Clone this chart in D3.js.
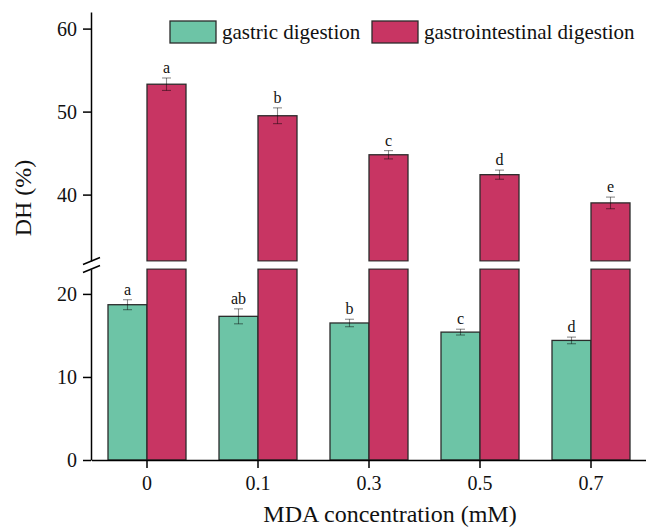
<!DOCTYPE html>
<html>
<head>
<meta charset="utf-8">
<script src="https://cdn.jsdelivr.net/npm/d3@7"></script>
<style>
  body { margin: 0; background: #fff; }
  svg text { font-family: "Liberation Serif", "Times New Roman", serif; fill: #111; }
</style>
</head>
<body>
<svg class="chart" width="646" height="529"></svg>
<script>
// MDA concentrations (mM)
const categories = ['0', '0.1', '0.3', '0.5', '0.7'];
const series = ['gastric digestion', 'gastrointestinal digestion'];
const gastric = [18.7, 17.3, 16.5, 15.4, 14.4];
const gastricErr = [0.6, 0.9, 0.45, 0.35, 0.4];
const gastricLetters = ['a', 'ab', 'b', 'c', 'd'];
const intestinal = [53.3, 49.5, 44.8, 42.4, 39.0];
const intestinalErr = [0.75, 0.95, 0.5, 0.55, 0.7];
const intestinalLetters = ['a', 'b', 'c', 'd', 'e'];
const lowTicks = [0, 10, 20];
const highTicks = [40, 50, 60];

const colors = ['#6dc4a6', '#c83563'];
const svg = d3.select('.chart');

// x: one band per concentration, two bars inside
var x = d3.scaleBand().domain(categories).range([91.5, 646.5]);
var x1 = d3.scaleBand().domain(series).range([0, x.bandwidth()]).paddingOuter(0.423);

// broken y axis: lower part and upper part
var yLo = d3.scaleLinear().domain([0, 23]).range([460, 269]);
var yHi = d3.scaleLinear().domain([32, 62]).range([261, 12]);

// bars
var groups = svg.selectAll('g.grp')
    .data(categories)
    .enter()
        .append('g')
            .attr('class', 'grp')
            .attr('transform', d => 'translate(' + x(d) + ',0)');

groups.append('rect')
    .attr('x', x1(series[0]))
    .attr('width', x1.bandwidth())
    .attr('y', (d, i) => yLo(gastric[i]))
    .attr('height', (d, i) => yLo(0) - yLo(gastric[i]))
    .attr('fill', colors[0])
    .attr('stroke', '#2b2b2b')
    .attr('stroke-width', 1.3);

// gastrointestinal: lower piece up to the break, upper piece from the break
groups.append('rect')
    .attr('x', x1(series[1]))
    .attr('width', x1.bandwidth())
    .attr('y', yLo(23))
    .attr('height', yLo(0) - yLo(23))
    .attr('fill', colors[1])
    .attr('stroke', '#2b2b2b')
    .attr('stroke-width', 1.3);

groups.append('rect')
    .attr('x', x1(series[1]))
    .attr('width', x1.bandwidth())
    .attr('y', (d, i) => yHi(intestinal[i]))
    .attr('height', (d, i) => yHi(32) - yHi(intestinal[i]))
    .attr('fill', colors[1])
    .attr('stroke', '#2b2b2b')
    .attr('stroke-width', 1.3);

// white gap covering the stroke at the break
svg.append('rect')
    .attr('x', 93).attr('width', 553)
    .attr('y', yHi(32) + 0.7).attr('height', yLo(23) - yHi(32) - 1.4)
    .attr('fill', '#fff');

// error bars + letters
function errBars(vals, errs, letters, scale, s) {
    var g = groups.append('g')
        .attr('stroke', 'rgba(0,0,0,0.45)')
        .attr('stroke-width', 1.1);
    var cx = x1(s) + x1.bandwidth() / 2;
    g.append('line')
        .attr('x1', cx).attr('x2', cx)
        .attr('y1', (d, i) => scale(vals[i] + errs[i]))
        .attr('y2', (d, i) => scale(vals[i] - errs[i]));
    [1, -1].forEach(function(sign) {
        g.append('line')
            .attr('x1', cx - 4.5).attr('x2', cx + 4.5)
            .attr('y1', (d, i) => scale(vals[i] + sign * errs[i]))
            .attr('y2', (d, i) => scale(vals[i] + sign * errs[i]));
    });
    groups.append('text')
        .attr('x', cx)
        .attr('y', (d, i) => scale(vals[i] + errs[i]) - 5)
        .attr('text-anchor', 'middle')
        .attr('font-size', 16)
        .text((d, i) => letters[i]);
}
errBars(gastric, gastricErr, gastricLetters, yLo, series[0]);
errBars(intestinal, intestinalErr, intestinalLetters, yHi, series[1]);

// axes
function styleAxis(g) {
    g.selectAll('path, line').attr('stroke', '#000').attr('stroke-width', 1.5);
    g.selectAll('text').attr('font-size', 20).attr('fill', '#111')
        .style('font-family', '"Liberation Serif", serif');
}

svg.append('g')
    .attr('transform', 'translate(0,460)')
    .call(d3.axisBottom(x).tickSize(8).tickSizeOuter(0).tickPadding(8))
    .call(styleAxis);

svg.append('g')
    .attr('transform', 'translate(91,0)')
    .call(d3.axisLeft(yLo).tickValues(lowTicks).tickSize(8).tickSizeOuter(0).tickPadding(6))
    .call(styleAxis);

svg.append('g')
    .attr('transform', 'translate(91,0)')
    .call(d3.axisLeft(yHi).tickValues(highTicks).tickSize(8).tickSizeOuter(0).tickPadding(6))
    .call(styleAxis);

// break marks on the axis
[yHi(32), yLo(23)].forEach(function(yy) {
    svg.append('line')
        .attr('x1', 83).attr('x2', 100)
        .attr('y1', yy + 3.5).attr('y2', yy - 3.5)
        .attr('stroke', '#000').attr('stroke-width', 1.5);
});

// axis titles
svg.append('text')
    .attr('x', 390).attr('y', 522)
    .attr('text-anchor', 'middle')
    .attr('font-size', 24)
    .text('MDA concentration (mM)');

svg.append('text')
    .attr('transform', 'translate(31,198) rotate(-90)')
    .attr('text-anchor', 'middle')
    .attr('font-size', 24)
    .text('DH (%)');

// legend
var legend = svg.selectAll('g.leg')
    .data(series)
    .enter()
        .append('g')
            .attr('class', 'leg')
            .attr('transform', (d, i) => 'translate(' + [170, 372][i] + ',21)');

legend.append('rect')
    .attr('width', 46).attr('height', 22)
    .attr('fill', (d, i) => colors[i])
    .attr('stroke', '#2b2b2b').attr('stroke-width', 1.3);

legend.append('text')
    .attr('x', 52).attr('y', 17.5)
    .attr('font-size', 21)
    .text(d => d);
</script>
</body>
</html>
